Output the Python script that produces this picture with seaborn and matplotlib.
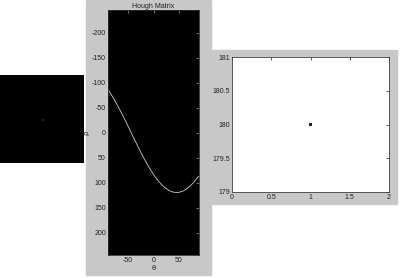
import numpy as np
import pandas as pd
import matplotlib
matplotlib.use("Agg")
import matplotlib.pyplot as plt
import seaborn as sns
from matplotlib.patches import Rectangle

sns.set_style("white")
plt.rcParams['font.family'] = ['Liberation Sans', 'DejaVu Sans']
plt.rcParams['axes.unicode_minus'] = False

# --- data ---
img_size = 44
point_cell = (22, 22)
point_level = 0.15

theta_deg = [-90, -80, -70, -60, -50, -40, -30, -20, -10, 0,
             10, 20, 30, 40, 50, 60, 70, 80, 89]
rho_vals = [-86, -70, -52, -32.5, -12, 9, 29.7, 49.5, 67.8, 84,
            97.7, 108.3, 115.7, 119.6, 119.9, 116.5, 109.5, 99.3, 87.5]

peak_theta = [1]
peak_rho = [180]

theta_ticks = [-50, 0, 50]
rho_ticks = [-200, -150, -100, -50, 0, 50, 100, 150, 200]
px_ticks = [0, 0.5, 1, 1.5, 2]
py_ticks = [179, 179.5, 180, 180.5, 181]
py_labels = ['179', '179.5', '180', '180.5', '181']
px_labels = ['0', '0.5', '1', '1.5', '2']

W, H = 400, 278
fig = plt.figure(figsize=(W / 100, H / 100), dpi=100)
fig.patch.set_facecolor('white')
gray = '#c8c8c8'

def fx(x): return x / W
def fy(y): return (H - y) / H

# gray panels
fig.patches.append(Rectangle((fx(86), fy(275)), fx(211) - fx(86), fy(0) - fy(275),
                             transform=fig.transFigure, color=gray, zorder=-10))
fig.patches.append(Rectangle((fx(212), fy(204)), fx(397) - fx(212), fy(50) - fy(204),
                             transform=fig.transFigure, color=gray, zorder=-10))

# left image
img = np.zeros((img_size, img_size))
img[point_cell] = point_level
ax0 = fig.add_axes([fx(0), fy(163), fx(84), fy(75) - fy(163)])
sns.heatmap(img, ax=ax0, cmap='gray', vmin=0, vmax=1, cbar=False,
            xticklabels=False, yticklabels=False)
ax0.set_axis_off()

# Hough matrix
ax1 = fig.add_axes([fx(108), fy(255), fx(199) - fx(108), fy(10) - fy(255)])
ax1.set_facecolor('black')
df = pd.DataFrame({'theta': theta_deg, 'rho': rho_vals})
sns.lineplot(data=df, x='theta', y='rho', ax=ax1, color='#bdbdbd', lw=0.65)
ax1.set_xlim(-90, 90)
ax1.set_ylim(245, -245)
ax1.set_xticks(theta_ticks)
ax1.set_yticks(rho_ticks)
ax1.tick_params(direction='in', length=2.5, width=0.6, labelsize=5, pad=1.5,
                top=True, right=True, colors='#888888', labelcolor='#202020')
for s in ax1.spines.values():
    s.set_color('#303030'); s.set_linewidth(0.6)
ax1.set_title('Hough Matrix', fontsize=5, pad=1.5, color='#202020')
ax1.set_xlabel('θ', fontsize=5, labelpad=0.5, color='#202020', family=['DejaVu Sans'])
ax1.set_ylabel('ρ', fontsize=5, labelpad=1.5, color='#202020', family=['DejaVu Sans'])

# peak plot
ax2 = fig.add_axes([fx(232), fy(192), fx(389) - fx(232), fy(57) - fy(192)])
ax2.set_facecolor('white')
sns.scatterplot(x=peak_theta, y=peak_rho, ax=ax2, marker='s', s=2.6,
                color='#202060', edgecolor='none')
ax2.set_xlim(0, 2)
ax2.set_ylim(179, 181)
ax2.set_xticks(px_ticks)
ax2.set_xticklabels(px_labels)
ax2.set_yticks(py_ticks)
ax2.set_yticklabels(py_labels)
ax2.tick_params(direction='in', length=2.5, width=0.6, labelsize=5, pad=1.5,
                top=True, right=True, colors='#404040', labelcolor='#202020')
for s in ax2.spines.values():
    s.set_color('#404040'); s.set_linewidth(0.6)

fig.savefig('out.png', dpi=100, facecolor='white')
